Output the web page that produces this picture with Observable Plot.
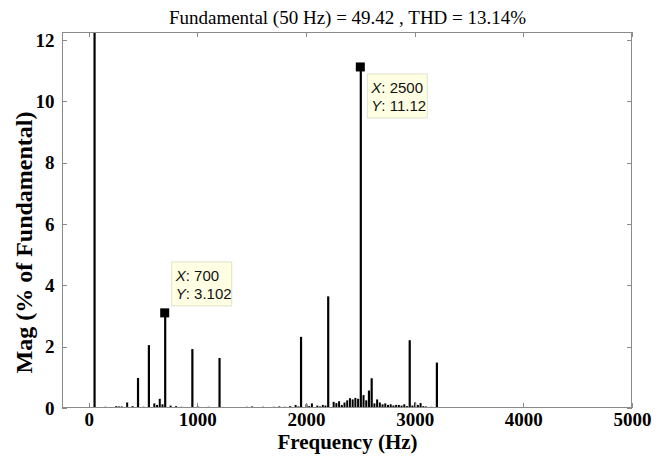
<!DOCTYPE html>
<html>
<head>
<meta charset="utf-8">
<script src="https://cdn.jsdelivr.net/npm/d3@7"></script>
<script src="https://cdn.jsdelivr.net/npm/@observablehq/plot@0.6"></script>
<style>
  html, body { margin: 0; padding: 0; background: #fff; }
</style>
</head>
<body>
<div id="chart"></div>
<script>
// ---- data ----
const titleText = "Fundamental (50 Hz) = 49.42 , THD = 13.14%";
const xLabel = "Frequency (Hz)";
const yLabel = "Mag (% of Fundamental)";
const xTicks = [0, 1000, 2000, 3000, 4000, 5000];
const yTicks = [0, 2, 4, 6, 8, 10, 12];

// dominant harmonic lines (fundamental is 100%, clipped by the axis)
const harmFreq = [50, 450, 550, 700, 950, 1200, 1950, 2200, 2500, 2575, 2600, 2950, 3200];
const harmMag  = [100, 0.98, 2.05, 3.102, 1.92, 1.63, 2.32, 3.64, 11.12, 0.57, 0.97, 2.21, 1.48];

// small spectral content near the baseline
const noiseFreq = [100, 150, 200, 250, 275, 300, 350, 400, 500, 600, 625, 650, 675, 750, 800, 850, 900,
  1000, 1050, 1100, 1150, 1250, 1300, 1350, 1400, 1450, 1500, 1550, 1600, 1650, 1700, 1750, 1800, 1850,
  1900, 1925, 2000, 2025, 2050, 2100, 2125, 2150, 2175, 2250, 2275, 2300, 2325, 2350, 2375, 2400, 2425,
  2450, 2475, 2525, 2550, 2625, 2650, 2675, 2700, 2725, 2750, 2775, 2800, 2825, 2850, 2875, 2900, 2925,
  2975, 3000, 3025, 3050, 3075, 3100, 3150, 3250, 3300, 3350, 3400, 3450, 3500];
const noiseMag = [0.03, 0.04, 0.03, 0.06, 0.05, 0.05, 0.18, 0.06, 0.04, 0.15, 0.10, 0.30, 0.12, 0.08, 0.06, 0.04, 0.03,
  0.05, 0.03, 0.04, 0.02, 0.02, 0.03, 0.02, 0.02, 0.04, 0.05, 0.03, 0.04, 0.03, 0.04, 0.05, 0.04, 0.06,
  0.10, 0.05, 0.12, 0.06, 0.15, 0.08, 0.05, 0.10, 0.08, 0.20, 0.16, 0.22, 0.10, 0.18, 0.25, 0.32, 0.28,
  0.33, 0.30, 0.42, 0.25, 0.15, 0.28, 0.18, 0.12, 0.15, 0.10, 0.12, 0.08, 0.10, 0.10, 0.08, 0.12, 0.06,
  0.08, 0.18, 0.10, 0.16, 0.06, 0.05, 0.04, 0.02, 0.02, 0.02, 0.02, 0.01, 0.01];

// data tips
const tipFreq = [700, 2500];
const tipMag  = [3.102, 11.12];
const tipXText = ["700", "2500"];
const tipYText = ["3.102", "11.12"];

// ---- build tables ----
const harmonics = harmFreq.map((f, i) => ({f, v: harmMag[i]}));
const noise = noiseFreq.map((f, i) => ({f, v: noiseMag[i]}));
const tips = tipFreq.map((f, i) => ({f, v: tipMag[i], xs: tipXText[i], ys: tipYText[i], below: i === 1}));

const axisGray = "#8a8a8a";
const serif = "'Liberation Serif', 'Times New Roman', serif";
const sans = "'Liberation Sans', Arial, Helvetica, sans-serif";

// frame + inward ticks on all four sides (MATLAB box style)
function frameAndTicks(index, scales, values, dims) {
  const {x, y} = scales;
  const L = dims.marginLeft, R = dims.width - dims.marginRight;
  const T = dims.marginTop, B = dims.height - dims.marginBottom;
  const g = d3.create("svg:g").attr("fill", "none").attr("stroke", axisGray).attr("stroke-width", 1);
  g.append("rect").attr("x", L + 0.5).attr("y", T + 0.5).attr("width", R - L - 1).attr("height", B - T - 1);
  const tl = 5;
  for (const t of xTicks) {
    const px = Math.round(x(t)) + 0.5;
    g.append("line").attr("x1", px).attr("x2", px).attr("y1", B).attr("y2", B - tl);
    g.append("line").attr("x1", px).attr("x2", px).attr("y1", T).attr("y2", T + tl);
  }
  for (const t of yTicks) {
    const py = Math.round(y(t)) + 0.5;
    g.append("line").attr("x1", L).attr("x2", L + tl).attr("y1", py).attr("y2", py);
    g.append("line").attr("x1", R).attr("x2", R - tl).attr("y1", py).attr("y2", py);
  }
  return g.node();
}

// MATLAB-style data tips: black square + pale yellow box
function dataTips(index, scales) {
  const {x, y} = scales;
  const g = d3.create("svg:g");
  for (const t of tips) {
    const px = x(t.f), py = y(t.v);
    g.append("rect").attr("x", px - 4.5).attr("y", py - 4.5).attr("width", 9).attr("height", 9).attr("fill", "#000");
    const w = 60, h = 44;
    const bx = px + 7;
    const by = t.below ? py + 7 : py - 7 - h;
    g.append("rect").attr("x", bx).attr("y", by).attr("width", w).attr("height", h)
      .attr("fill", "#ffffe4").attr("stroke", "#e2e2cc").attr("stroke-width", 1);
    const lines = [["X", t.xs], ["Y", t.ys]];
    lines.forEach(([k, val], j) => {
      const tx = g.append("text").attr("x", bx + 4).attr("y", by + 19 + j * 18.5)
        .attr("text-anchor", "start")
        .attr("font-family", sans).attr("font-size", 15).attr("fill", "#111");
      tx.append("tspan").attr("font-style", "italic").text(k);
      tx.append("tspan").text(": " + val);
    });
  }
  return g.node();
}

const chart = Plot.plot({
  width: 665,
  height: 456,
  marginLeft: 62,
  marginRight: 33,
  marginTop: 32,
  marginBottom: 48,
  style: {fontFamily: serif, background: "#fff", color: "#000"},
  x: {domain: [-245, 5000], axis: null},
  y: {domain: [0, 12.26], axis: null},
  marks: [
    Plot.ruleX(noise, {x: "f", y1: 0, y2: "v", stroke: "#000", strokeWidth: 2}),
    Plot.ruleX(harmonics, {x: "f", y1: 0, y2: "v", stroke: "#000", strokeWidth: 2.2, clip: true}),
    frameAndTicks,
    dataTips,
    // tick labels
    Plot.text(xTicks, {x: d => d, frameAnchor: "bottom", dy: 11, lineAnchor: "middle", textAnchor: "middle",
      text: d => String(d), fontSize: 19, fontWeight: "bold", fontFamily: serif, fill: "#000"}),
    Plot.text(yTicks, {y: d => d, frameAnchor: "left", dx: -8, textAnchor: "end", lineAnchor: "middle",
      text: d => String(d), fontSize: 19, fontWeight: "bold", fontFamily: serif, fill: "#000"}),
    // axis labels and title
    Plot.text([xLabel], {frameAnchor: "bottom", dy: 34, lineAnchor: "middle", textAnchor: "middle",
      text: d => d, fontSize: 21, fontWeight: "bold", fontFamily: serif, fill: "#000"}),
    Plot.text([yLabel], {frameAnchor: "left", dx: -38, dy: 22, rotate: -90, lineAnchor: "middle",
      textAnchor: "middle", text: d => d, fontSize: 24, fontWeight: "bold", fontFamily: serif, fill: "#000"}),
    Plot.text([titleText], {frameAnchor: "top", dy: -15, lineAnchor: "middle", textAnchor: "middle",
      text: d => d, fontSize: 19, fontFamily: serif, fill: "#000"})
  ]
});
document.getElementById("chart").appendChild(chart);
</script>
</body>
</html>
